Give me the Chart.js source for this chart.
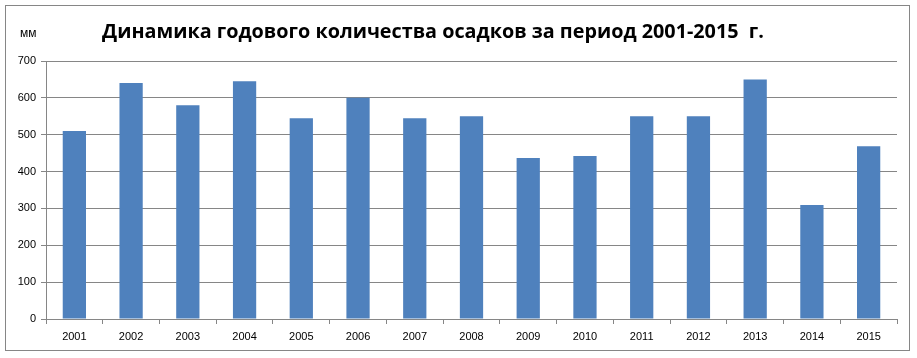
<!DOCTYPE html>
<html>
<head>
<meta charset="utf-8">
<script src="https://cdn.jsdelivr.net/npm/chart.js@4/dist/chart.umd.min.js"></script>
<style>
  html, body { margin: 0; padding: 0; background: #fff; }
  #wrap { position: absolute; left: 0; top: 0; width: 917px; height: 358px; }
  #frame { position: absolute; left: 5px; top: 5px; width: 905px; height: 346px; border: 1px solid #868686; box-sizing: border-box; }
</style>
</head>
<body>
<div id="frame"></div>
<div id="wrap"><canvas id="rain"></canvas></div>
<script>
// годовое количество осадков, мм
const years  = ['2001','2002','2003','2004','2005','2006','2007','2008','2009','2010','2011','2012','2013','2014','2015'];
const precip = [510, 640, 580, 645, 545, 600, 545, 550, 437, 442, 550, 550, 650, 309, 469];
const yTicks = [0, 100, 200, 300, 400, 500, 600, 700];

const chartTitle = 'Динамика годового количества осадков за период 2001-2015  г.';
const unitLabel  = 'мм';

const GRID = '#868686';
const tickFont = { family: 'Liberation Sans, Arial, sans-serif', size: 11 };

// title and unit label, placed like the Excel original
const headerText = {
  id: 'headerText',
  afterDraw(chart) {
    const c = chart.ctx;
    c.save();
    c.fillStyle = '#000';
    c.textBaseline = 'alphabetic';
    c.font = 'bold 19.8px "Open Sans", "Liberation Sans", sans-serif';
    c.textAlign = 'center';
    c.fillText(chartTitle, 433, 38);
    c.font = '12px "Liberation Sans", Arial, sans-serif';
    c.textAlign = 'left';
    c.fillText(unitLabel, 20, 37);
    c.restore();
  }
};

new Chart(document.getElementById('rain'), {
  type: 'bar',
  data: {
    labels: years,
    datasets: [{
      label: 'Осадки, мм',
      data: precip,
      backgroundColor: '#4f81bd',
      borderWidth: 0,
      barPercentage: 0.41,
      categoryPercentage: 1.0,
    }]
  },
  plugins: [headerText],
  options: {
    responsive: true,
    maintainAspectRatio: false,
    animation: false,
    layout: { padding: { top: 61, right: 20, bottom: 6, left: 0 } },
    plugins: {
      legend: { display: false },
      title: { display: false },
      tooltip: { enabled: false }
    },
    scales: {
      x: {
        offset: true,
        grid: {
          display: true, offset: true, drawOnChartArea: false,
          drawTicks: true, tickLength: 5, color: GRID
        },
        border: { display: true, color: GRID, width: 1 },
        ticks: { color: '#000', font: tickFont, padding: 6, maxRotation: 0 },
        afterFit(scale) { scale.height = 33; }
      },
      y: {
        min: 0, max: 700,
        afterBuildTicks(scale) { scale.ticks = yTicks.map(v => ({ value: v })); },
        grid: { color: GRID, lineWidth: 1, drawTicks: true, tickLength: 5 },
        border: { display: true, color: GRID, width: 1 },
        ticks: { color: '#000', font: tickFont, padding: 5 },
        afterFit(scale) { scale.width = 46; }
      }
    }
  }
});
</script>
</body>
</html>
